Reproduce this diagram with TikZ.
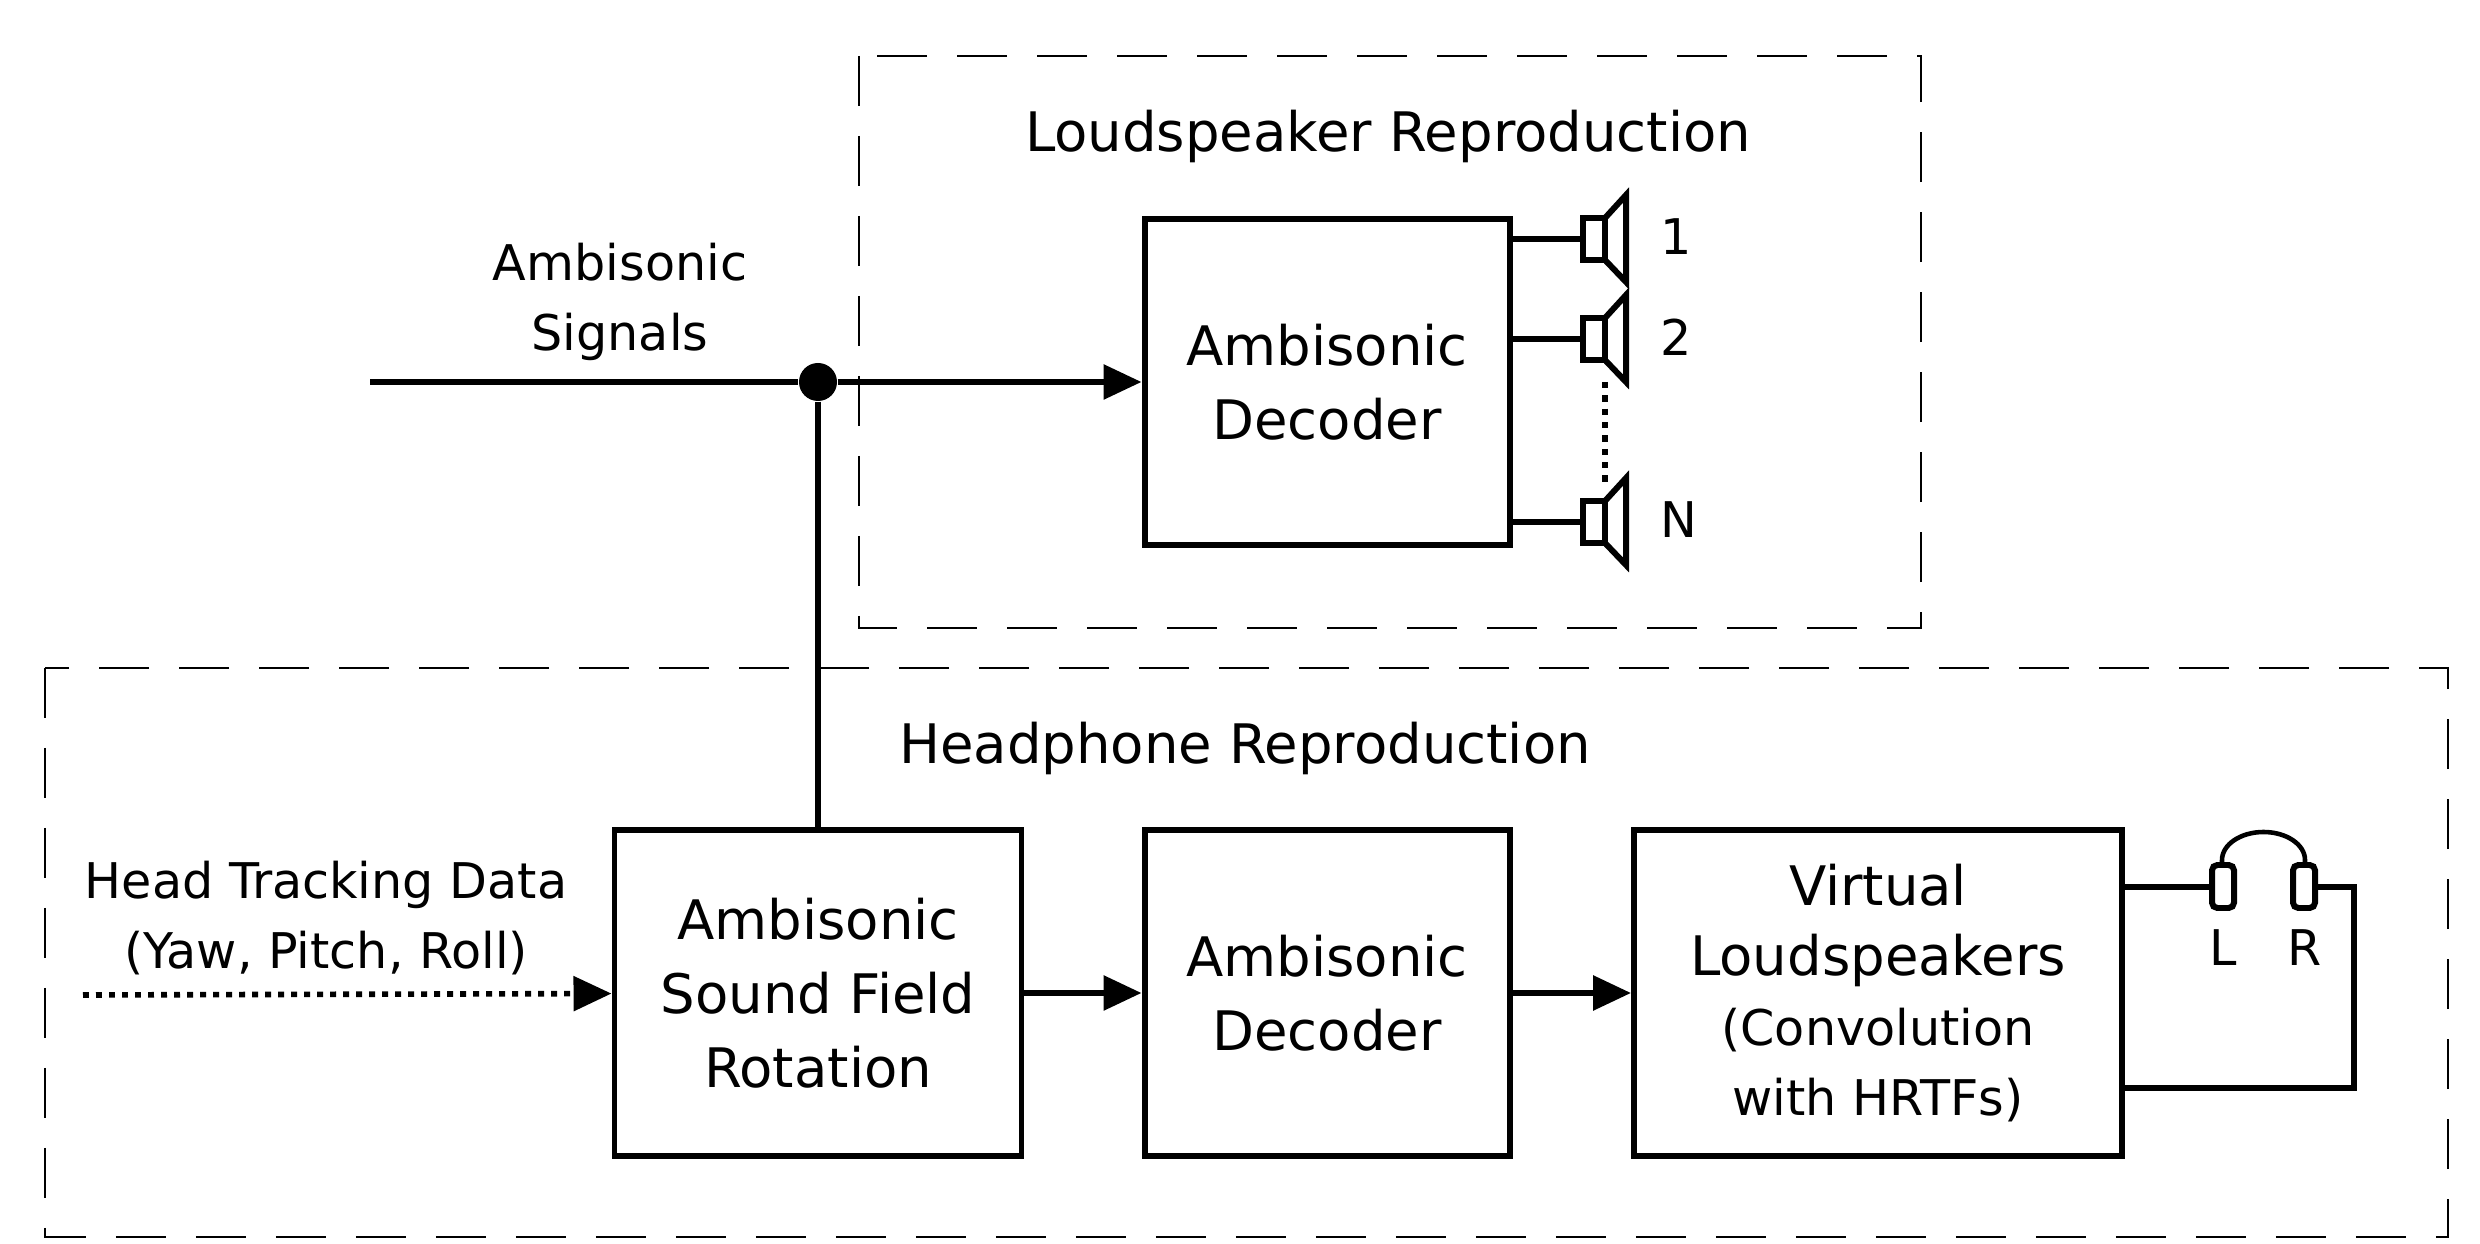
\documentclass[tikz,border=0pt]{standalone}
\usepackage{fontspec}
\setmainfont{DejaVu Sans}
\usetikzlibrary {arrows.meta,
                 positioning}
\tikzset{
        base/.style={draw, align=center, line width=1.7pt, font=\fontsize{15.5}{21}\selectfont},
        block/.style={base, rectangle, minimum width=36.5mm, minimum height=32.6mm, inner sep=0pt},
        group/.style={draw, dashed, dash pattern=on 5mm off 3mm, line width=0.8pt},
        lbl/.style={align=center, font=\fontsize{15.5}{21}\selectfont},
        myarrow/.style={-{Triangle[length=3.8mm, width=3.4mm]}, line width=1.7pt},
        wire/.style={line width=1.7pt},
 }
\begin{document}
\begin{tikzpicture}[x=0.1mm, y=-0.1mm]
    \useasboundingbox (0,0) rectangle (2480,1244);
    % dashed groups
    \draw[group] (859,56) rectangle (1921,628);
    \draw[group] (45,668) rectangle (2448,1237);
    \node[lbl] (tls) at (1388,136) {Loudspeaker Reproduction};
    \node[lbl] (ths) at (1245,748) {Headphone Reproduction};

    % blocks
    \node[block] (dec1) at (1327,382) {Ambisonic\\Decoder};
    \node[block, minimum width=40.7mm] (rot) at (818,993) {Ambisonic\\Sound Field\\Rotation};
    \node[block] (dec2) at (1327,993) {Ambisonic\\Decoder};
    \node[block, minimum width=48.8mm, font=\fontsize{14}{20}\selectfont] (virt) at (1878,993)
        {{\fontsize{15.5}{21}\selectfont Virtual}\\{\fontsize{15.5}{21}\selectfont Loudspeakers}\\(Convolution\\with HRTFs)};

    % input
    \coordinate (in) at (370,382);
    \node[lbl, font=\fontsize{14}{20}\selectfont] (sig) at (620,302) {Ambisonic\\Signals};
    \node[circle, fill, inner sep=0pt, minimum size=3.8mm] (dot) at (818,382) {};
    \draw[wire] (in) -- (dot);
    \draw[myarrow] (dot) -- (dec1);
    \draw[wire] (dot) -- (rot);

    % head tracking
    \coordinate (ht) at (83,995);
    \node[lbl, font=\fontsize{14}{20}\selectfont] (htd) at (326,918) {Head Tracking Data\\(Yaw, Pitch, Roll)};
    \draw[myarrow, dotted, line width=1.6pt] (ht) -- (rot);
    \draw[myarrow] (rot) -- (dec2);
    \draw[myarrow] (dec2) -- (virt);

    % loudspeakers
    \foreach \y/\t in {239/1, 339/2, 522/N} {
        \draw[wire] (1510,\y) -- (1583,\y);
        \draw[wire] (1583,\y-21) rectangle (1605,\y+21);
        \draw[wire] (1605,\y-21) -- (1626,\y-44) -- (1626,\y+43) -- (1605,\y+21);
        \node[lbl, anchor=west, font=\fontsize{14}{20}\selectfont] (sp\t) at (1648,\y-2) {\t};
    }
    \draw[line width=1.8pt, dotted] (1605,382) -- (1605,482);

    % headphones
    \draw[wire, rounded corners=1.5pt] (2212,865) rectangle (2234,908);
    \draw[wire, rounded corners=1.5pt] (2293,865) rectangle (2315,908);
    \draw[line width=1.3pt] (2222,865) -- (2222,860) arc[start angle=180, end angle=0, x radius=41.5, y radius=-28] -- (2305,865);
    \node[lbl, font=\fontsize{14}{20}\selectfont] (hl) at (2223,948) {L};
    \node[lbl, font=\fontsize{14}{20}\selectfont] (hr) at (2305,948) {R};
    \draw[wire] (virt.east |- 0,887) -- (2212,887);
    \draw[wire] (2315,887) -- (2354,887) -- (2354,1088) -- (virt.east |- 0,1088);
\end{tikzpicture}
\end{document}
